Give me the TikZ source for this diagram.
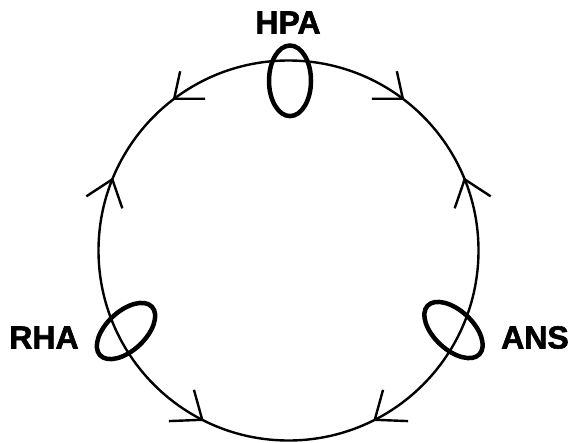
\documentclass[tikz,border=0pt]{standalone}
\usepackage{fontspec}
\setmainfont{Liberation Sans}
\newfontfamily\heavyfont{Liberation Sans Bold}[FakeBold=1.8]
\begin{document}
\begin{tikzpicture}[x=1pt,y=-1pt,
  ring/.style={line width=2.4pt},
  barb/.style={line width=2.4pt},
  loopring/.style={line width=4.5pt},
  lab/.style={font=\fontsize{32}{32}\heavyfont, inner sep=0pt, anchor=center}]
\useasboundingbox (0,0) rectangle (570,442);
\coordinate (c) at (288.5,250.5);
\draw[ring] (c) circle[radius=190];
% arrow tips on the ring
\coordinate (tl) at ([shift={(-127:190)}]c);
\coordinate (tr) at ([shift={(-53:190)}]c);
\coordinate (ml) at ([shift={(-158:190)}]c);
\coordinate (mr) at ([shift={(-22:190)}]c);
\coordinate (bl) at ([shift={(-243:190)}]c);
\coordinate (br) at ([shift={(-297:190)}]c);
\draw[barb] (tl) ++(6,-27.5) -- (tl) -- ++(31,0);
\draw[barb] (tr) ++(-6,-27.5) -- (tr) -- ++(-31,0);
\draw[barb] (ml) ++(-26,17) -- (ml) -- ++(10,29);
\draw[barb] (mr) ++(26,17) -- (mr) -- ++(-10,29);
\draw[barb] (bl) ++(-8.3,-30) -- (bl) -- ++(-33.3,1.3);
\draw[barb] (br) ++(8.3,-30) -- (br) -- ++(33.3,1.3);
% loops
\draw[loopring] (290,80.8) ellipse[x radius=21, y radius=35.3];
\draw[loopring, rotate around={43:(126,331)}] (126,331) ellipse[x radius=35.5, y radius=19.5];
\draw[loopring, rotate around={-43:(453.5,330)}] (453.5,330) ellipse[x radius=35.5, y radius=19.5];
% labels
\node[lab] (hpa) at (288,22.5) {HPA};
\node[lab] (rha) at (44,337.5) {RHA};
\node[lab] (ans) at (535,337.5) {ANS};
\end{tikzpicture}
\end{document}
